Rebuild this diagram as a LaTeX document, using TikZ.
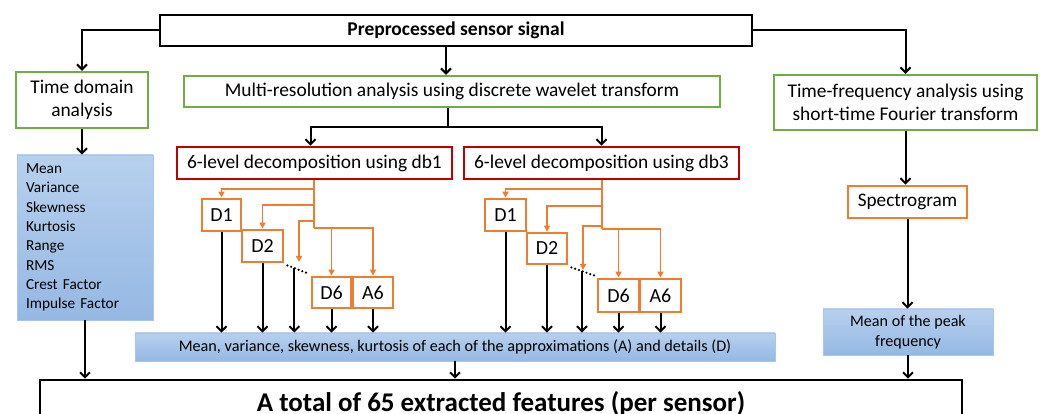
\documentclass[tikz,border=0pt]{standalone}
\usepackage{fontspec}
\setmainfont{Carlito}
\usetikzlibrary{arrows.meta,calc}
\definecolor{boxgreen}{HTML}{70AD47}
\definecolor{boxred}{HTML}{C00000}
\definecolor{boxorange}{HTML}{ED7D31}
\definecolor{bluetop}{HTML}{B7D0EE}
\definecolor{bluebot}{HTML}{95B8E3}
\definecolor{blueedge}{HTML}{A9C6EA}
\tikzset{
  base/.style={rectangle, inner sep=0pt, align=center, font=\fontsize{19.4}{23}\selectfont},
  blackbox/.style={base, draw=black, line width=2.6pt},
  greenbox/.style={base, draw=boxgreen, line width=2.4pt},
  redbox/.style={base, draw=boxred, line width=2.8pt},
  orangebox/.style={base, draw=boxorange, line width=2.8pt, font=\fontsize{20}{22}\selectfont},
  bluebox/.style={base, draw=blueedge, line width=0.8pt, top color=bluetop, bottom color=bluebot},
  link/.style={draw=black, line width=2pt},
  arr/.style={link, -{Straight Barb[length=5pt,width=10pt,line width=2pt]}},
  olink/.style={draw=boxorange, line width=1.5pt},
  oarr/.style={olink, -{Triangle[length=6pt,width=6pt]}},
  dots/.style={draw=black, line width=2.4pt, line cap=round, dash pattern=on 0pt off 4pt},
}
\begin{document}
\begin{tikzpicture}[x=1pt,y=-1pt]
\useasboundingbox (0,0) rectangle (1045,414);
\clip (0,0) rectangle (1045,414);

% top row
\node[blackbox, minimum width=592pt, minimum height=31pt, font=\fontsize{19.5}{23}\selectfont\bfseries] (top) at (456,30.5) {Preprocessed sensor signal};
\node[greenbox, minimum width=132pt, minimum height=56pt] (tda) at (82,100) {Time domain\\analysis};
\node[greenbox, minimum width=536pt, minimum height=31pt] (mra) at (452,91.5) {Multi-resolution analysis using discrete wavelet transform};
\node[greenbox, minimum width=263pt, minimum height=55pt] (stft) at (905.5,102.5) {Time-frequency analysis using\\short-time Fourier transform};

% time-domain features
\node[bluebox, minimum width=136pt, minimum height=165pt, align=left, text width=118pt,
      font=\fontsize{15.3}{19.3}\selectfont] (tdf) at (85,237.5)
  {Mean\\Variance\\Skewness\\Kurtosis\\Range\\RMS\\Crest Factor\\Impulse Factor};

% wavelet decompositions
\node[redbox, minimum width=275pt, minimum height=32pt] (db1) at (314.5,163) {6-level decomposition using db1};
\node[redbox, minimum width=275pt, minimum height=32pt] (db3) at (601.5,163) {6-level decomposition using db3};

\node[orangebox, minimum width=39pt, minimum height=32pt] (D1a) at (221.5,215) {D1};
\node[orangebox, minimum width=41pt, minimum height=32pt] (D2a) at (262.5,246) {D2};
\node[orangebox, minimum width=39pt, minimum height=31pt] (D6a) at (331.5,292.5) {D6};
\node[orangebox, minimum width=40pt, minimum height=31pt] (A6a) at (373,292.5) {A6};

\node[orangebox, minimum width=41pt, minimum height=32pt] (D1b) at (505.5,215) {D1};
\node[orangebox, minimum width=40pt, minimum height=31pt] (D2b) at (547,248.5) {D2};
\node[orangebox, minimum width=41pt, minimum height=33pt] (D6b) at (618.5,295.5) {D6};
\node[orangebox, minimum width=41pt, minimum height=33pt] (A6b) at (660.5,295.5) {A6};

% spectrogram branch
\node[orangebox, minimum width=119pt, minimum height=32pt, font=\fontsize{19.2}{22}\selectfont] (spec) at (907.5,202) {Spectrogram};
\node[bluebox, minimum width=170pt, minimum height=46pt, font=\fontsize{16.1}{20}\selectfont] (peak) at (908,332) {Mean of the peak\\frequency};

% wavelet statistics and result
\node[bluebox, minimum width=640pt, minimum height=28pt, font=\fontsize{16.2}{18}\selectfont] (mid) at (455,347)
  {Mean, variance, skewness, kurtosis of each of the approximations (A) and details (D)};
\node[blackbox, minimum width=922pt, minimum height=48pt, font=\fontsize{27}{30}\selectfont\bfseries] (final) at (501,404)
  {A total of 65 extracted features (per sensor)};

% connectors from the preprocessed signal
\draw[arr] (top.west) -| (tda.north);
\draw[arr] (top.east) -| (stft.north);
\draw[arr] ([xshift=-10pt]top.south) -- ([xshift=-10pt]top.south |- mra.north);

\coordinate (split) at (448,127);
\draw[link] (mra.south -| split) -- (split);
\draw[arr] (split) -| ([xshift=-4pt]db1.north);
\draw[arr] (split) -| (db3.north);

\draw[arr] (tda.south) -- (tda.south |- tdf.north);
\draw[arr] (stft.south) -- (stft.south |- spec.north);
\draw[arr] (spec.south) -- (spec.south |- peak.north);

% orange split of db1
\coordinate (ta) at (314,228);
\coordinate (oa) at (299,262);
\draw[olink] (db1.south -| ta) -- (ta);
\draw[oarr] (ta |- 0,189) -| (D1a.north);
\draw[oarr] (ta |- 0,205) -| (D2a.north);
\draw[oarr] (ta |- 0,221) -| (oa);
\draw[oarr] (ta) -| (D6a.north);
\draw[oarr] (ta) -| (A6a.north);

% orange split of db3
\coordinate (tb) at (602,229);
\coordinate (ob) at (583,270);
\draw[olink] (db3.south -| tb) -- (tb);
\draw[oarr] (tb |- 0,189) -| (D1b.north);
\draw[oarr] (tb |- 0,206) -| (D2b.north);
\draw[oarr] (tb |- 0,226) -| (ob);
\draw[oarr] (tb) -| (D6b.north);
\draw[oarr] (tb) -| (A6b.north);

% dotted gaps between D2 and D6
\draw[dots] ([shift={(3pt,-2pt)}]D2a.south east) -- ([shift={(-2pt,2pt)}]D6a.north west);
\draw[dots] ([shift={(3pt,-2pt)}]D2b.south east) -- ([shift={(-2pt,2pt)}]D6b.north west);
\coordinate (ma) at ($(D2a.south east)!0.38!(D6a.north west)$);
\coordinate (mb) at ($(D2b.south east)!0.48!(D6b.north west)$);

% coefficients into the statistics box
\foreach \n in {D1a,D2a,D6a,A6a,D1b,D2b,D6b,A6b}
  \draw[arr] (\n.south) -- (\n.south |- mid.north);
\draw[arr] (ma) -- (ma |- mid.north);
\draw[arr] (mb) -- (mb |- mid.north);

% everything into the feature total
\draw[arr] (tdf.south) -- (tdf.south |- final.north);
\draw[arr] (mid.south) -- (mid.south |- final.north);
\draw[arr] (peak.south) -- (peak.south |- final.north);
\end{tikzpicture}
\end{document}
